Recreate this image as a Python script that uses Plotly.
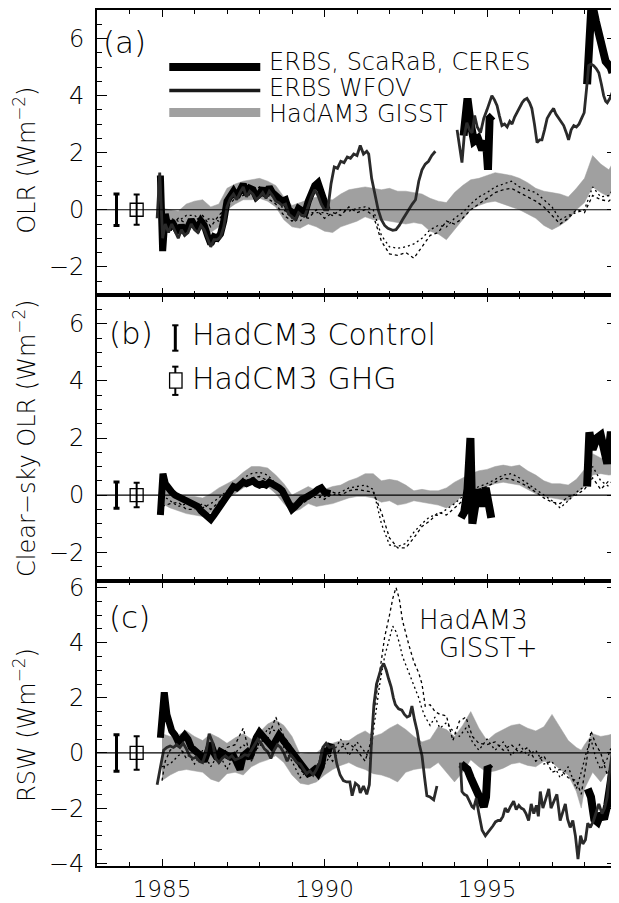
import plotly.graph_objects as go
from plotly.subplots import make_subplots

# ---------------- data ----------------
# Panel (a) OLR
a_erbs_x = [1984.95, 1985.02, 1985.1, 1985.2, 1985.3, 1985.4, 1985.5, 1985.6, 1985.7, 1985.8, 1985.9, 1986.0, 1986.1, 1986.2, 1986.3, 1986.4, 1986.5, 1986.6, 1986.7, 1986.8, 1986.9, 1987.0, 1987.1, 1987.2, 1987.3, 1987.4, 1987.5, 1987.6, 1987.7, 1987.8, 1987.9, 1988.0, 1988.1, 1988.2, 1988.3, 1988.4, 1988.5, 1988.6, 1988.7, 1988.8, 1988.9, 1989.0, 1989.1, 1989.2, 1989.3, 1989.4, 1989.5, 1989.6, 1989.7, 1989.8, 1989.9, 1990.0, 1990.08]
a_erbs_y = [1.2, -1.45, -0.15, -0.7, -0.4, -0.55, -0.8, -0.55, -0.75, -0.6, -0.35, -0.55, -0.65, -0.4, -0.55, -0.9, -1.2, -0.95, -1.0, -0.85, -0.4, 0.3, 0.5, 0.65, 0.45, 0.7, 0.9, 0.55, 0.75, 0.7, 0.45, 0.55, 0.75, 0.5, 0.8, 0.6, 0.45, 0.4, 0.3, 0.35, 0.0, -0.1, -0.2, 0.05, -0.05, -0.1, 0.3, 0.6, 0.85, 0.95, 0.6, 0.3, 0.0]
a_scarab_x = [1994.28, 1994.4, 1994.5, 1994.6, 1994.72, 1994.85, 1994.97, 1995.03, 1995.08, 1995.17]
a_scarab_y = [2.6, 3.9, 3.0, 2.4, 2.5, 2.1, 2.4, 1.4, 3.2, 3.3]
a_ceres_x = [1998.08, 1998.15, 1998.22, 1998.35, 1998.5, 1998.65, 1998.8, 1998.86]
a_ceres_y = [4.4, 6.8, 7.3, 6.6, 5.9, 5.2, 5.0, 4.8]
a_wfov1_x = [1984.85, 1984.93, 1985.02, 1985.1, 1985.2, 1985.3, 1985.4, 1985.5, 1985.6, 1985.7, 1985.8, 1985.9, 1986.0, 1986.1, 1986.2, 1986.3, 1986.4, 1986.5, 1986.6, 1986.7, 1986.8, 1986.9, 1987.0, 1987.1, 1987.2, 1987.3, 1987.4, 1987.5, 1987.6, 1987.7, 1987.8, 1987.9, 1988.0, 1988.1, 1988.2, 1988.3, 1988.4, 1988.5, 1988.6, 1988.7, 1988.8, 1988.9, 1989.0, 1989.1, 1989.2, 1989.3, 1989.4, 1989.5, 1989.6, 1989.7, 1989.8, 1989.9, 1990.0, 1990.1, 1990.2, 1990.3, 1990.4, 1990.5, 1990.6, 1990.7, 1990.8, 1990.9, 1991.0, 1991.1, 1991.2, 1991.3, 1991.36, 1991.45, 1991.55, 1991.65, 1991.75, 1991.85, 1991.95, 1992.1, 1992.2, 1992.3, 1992.4, 1992.5, 1992.6, 1992.7, 1992.8, 1992.9, 1993.0, 1993.1, 1993.2, 1993.3, 1993.41]
a_wfov1_y = [-0.3, 1.3, -1.0, -0.5, -0.8, -0.5, -0.75, -1.0, -0.7, -0.9, -0.8, -0.5, -0.7, -0.8, -0.55, -0.7, -1.0, -1.3, -1.05, -1.05, -0.95, -0.6, 0.1, 0.4, 0.55, 0.35, 0.6, 0.8, 0.45, 0.65, 0.55, 0.35, 0.45, 0.6, 0.4, 0.65, 0.5, 0.3, 0.25, 0.15, 0.2, -0.15, -0.25, -0.35, -0.1, -0.2, -0.2, 0.15, 0.45, 0.7, 0.5, 0.2, 0.0, 0.0, 0.9, 1.5, 1.45, 1.7, 1.65, 1.85, 1.8, 1.95, 1.9, 2.25, 1.95, 2.05, 1.95, 1.1, 0.5, 0.0, -0.35, -0.55, -0.65, -0.72, -0.7, -0.55, -0.35, -0.15, 0.0, 0.2, 0.35, 1.0, 1.4, 1.6, 1.7, 1.9, 2.05]
a_wfov2_x = [1994.08, 1994.15, 1994.23, 1994.3, 1994.38, 1994.46, 1994.54, 1994.62, 1994.7, 1994.8, 1994.9, 1995.0, 1995.08, 1995.15, 1995.23, 1995.31, 1995.38, 1995.46, 1995.54, 1995.62, 1995.7, 1995.77, 1995.85, 1995.92, 1996.0, 1996.08, 1996.15, 1996.23, 1996.31, 1996.38, 1996.46, 1996.54, 1996.62, 1996.69, 1996.77, 1996.85, 1996.95, 1997.05, 1997.12, 1997.2, 1997.28, 1997.36, 1997.44, 1997.51, 1997.59, 1997.67, 1997.75, 1997.83, 1997.91, 1997.99, 1998.06, 1998.13, 1998.2, 1998.28, 1998.36, 1998.44, 1998.52, 1998.59, 1998.65, 1998.7, 1998.78, 1998.85, 1998.92, 1999.0]
a_wfov2_y = [2.8, 2.2, 1.65, 2.6, 3.05, 2.8, 2.7, 3.3, 2.9, 2.7, 3.2, 3.5, 3.75, 4.0, 3.85, 3.65, 3.3, 2.95, 3.0, 2.9, 3.1, 3.0, 3.25, 3.4, 3.6, 3.75, 3.85, 3.9, 3.75, 3.55, 3.0, 2.35, 2.45, 2.45, 2.8, 3.2, 3.4, 3.55, 3.35, 3.2, 3.05, 2.95, 2.7, 2.45, 2.8, 2.95, 2.9, 3.0, 3.2, 3.4, 4.2, 5.05, 5.1, 5.05, 4.95, 4.8, 4.4, 4.0, 3.8, 3.75, 3.9, 4.1, 4.05, 4.1]
a_band_x = [1985.0, 1985.25, 1985.5, 1985.75, 1986.0, 1986.25, 1986.5, 1986.75, 1987.0, 1987.25, 1987.5, 1987.75, 1988.0, 1988.25, 1988.5, 1988.75, 1989.0, 1989.25, 1989.5, 1989.75, 1990.0, 1990.25, 1990.5, 1990.75, 1991.0, 1991.25, 1991.5, 1991.75, 1992.0, 1992.25, 1992.5, 1992.75, 1993.0, 1993.25, 1993.5, 1993.75, 1994.0, 1994.25, 1994.5, 1994.75, 1995.0, 1995.25, 1995.5, 1995.75, 1996.0, 1996.25, 1996.5, 1996.75, 1997.0, 1997.25, 1997.5, 1997.75, 1998.0, 1998.25, 1998.5, 1998.75, 1999.0]
a_band_hi = [0.05, 0.0, -0.05, 0.2, 0.3, 0.35, 0.1, 0.2, 0.75, 0.9, 1.0, 1.05, 1.1, 1.0, 0.85, 0.45, 0.15, 0.25, 0.35, 0.45, 0.35, 0.35, 0.55, 0.7, 0.75, 0.8, 0.75, 0.7, 0.75, 0.65, 0.65, 0.6, 0.55, 0.4, 0.3, 0.25, 0.6, 0.85, 1.05, 1.1, 1.2, 1.3, 1.25, 1.2, 1.1, 0.95, 0.75, 0.65, 0.6, 0.55, 0.45, 0.75, 1.1, 1.9, 1.6, 1.4, 1.9]
a_band_lo = [-0.35, -0.7, -0.65, -0.55, -0.6, -0.7, -0.8, -0.6, 0.0, 0.2, 0.35, 0.35, 0.4, 0.3, 0.1, -0.35, -0.6, -0.65, -0.5, -0.6, -0.75, -0.8, -0.6, -0.5, -0.4, -0.25, -0.35, -0.35, -0.4, -0.45, -0.5, -0.45, -0.5, -0.75, -0.85, -1.05, -0.7, -0.35, 0.0, 0.15, 0.25, 0.3, 0.2, 0.1, 0.0, -0.15, -0.3, -0.55, -0.7, -0.55, -0.35, 0.0, 0.25, 0.8, 0.6, 0.45, 1.05]
a_plus1 = [-0.3, -0.3, -0.4, -0.2, -0.2, -0.4, -0.3, -0.4, 0.3, 0.6, 0.7, 0.8, 0.6, 0.6, 0.4, 0.0, -0.3, -0.4, -0.1, -0.1, -0.1, -0.2, 0.0, -0.05, 0.05, 0.1, 0.0, -0.9, -1.3, -1.35, -1.3, -1.2, -1.0, -0.7, -0.55, -0.6, -0.3, -0.1, 0.2, 0.45, 0.6, 0.8, 0.9, 1.0, 0.8, 0.7, 0.6, 0.35, 0.1, -0.35, -0.2, -0.1, 0.0, 0.8, 0.45, 0.5, 0.9]
a_plus2 = [-0.5, -0.6, -0.3, -0.5, -0.4, -0.2, -0.6, -0.2, 0.1, 0.4, 0.5, 0.6, 0.8, 0.4, 0.2, -0.2, -0.4, -0.2, -0.3, 0.0, -0.3, -0.1, -0.2, 0.1, -0.1, 0.0, -0.2, -1.1, -1.55, -1.6, -1.5, -1.7, -1.3, -0.9, -0.8, -0.4, -0.5, -0.3, 0.0, 0.2, 0.4, 0.6, 0.7, 0.75, 0.6, 0.45, 0.3, 0.1, -0.2, -0.5, -0.3, 0.0, -0.1, 0.5, 0.35, 0.3, 0.6]

# Panel (b) clear-sky OLR
b_erbs_x = [1984.95, 1985.03, 1985.1, 1985.2, 1985.3, 1985.4, 1985.5, 1985.6, 1985.7, 1985.8, 1985.9, 1986.0, 1986.1, 1986.2, 1986.3, 1986.4, 1986.5, 1986.6, 1986.7, 1986.8, 1986.9, 1987.0, 1987.1, 1987.2, 1987.3, 1987.4, 1987.5, 1987.6, 1987.7, 1987.8, 1987.9, 1988.0, 1988.1, 1988.2, 1988.3, 1988.4, 1988.5, 1988.6, 1988.7, 1988.8, 1988.9, 1989.0, 1989.1, 1989.2, 1989.3, 1989.4, 1989.5, 1989.6, 1989.7, 1989.8, 1989.9, 1990.0, 1990.1, 1990.18]
b_erbs_y = [-0.7, 0.75, 0.4, 0.2, 0.1, 0.0, -0.05, -0.1, -0.15, -0.2, -0.25, -0.3, -0.4, -0.55, -0.65, -0.8, -0.85, -0.7, -0.55, -0.4, -0.2, -0.05, 0.15, 0.3, 0.25, 0.35, 0.45, 0.4, 0.45, 0.5, 0.4, 0.35, 0.4, 0.35, 0.45, 0.4, 0.3, 0.25, 0.15, -0.05, -0.3, -0.5, -0.4, -0.25, -0.15, -0.1, -0.05, 0.0, 0.1, 0.2, 0.25, 0.1, 0.05, 0.05]
b_scarab_x = [1994.2, 1994.3, 1994.4, 1994.49, 1994.55, 1994.62, 1994.72, 1994.84, 1994.96, 1995.05, 1995.13]
b_scarab_y = [-0.8, -0.6, 0.2, 2.0, -1.0, -0.3, 0.2, -0.4, 0.25, -0.3, -0.8]
b_ceres_x = [1998.08, 1998.15, 1998.25, 1998.38, 1998.5, 1998.6, 1998.7, 1998.8, 1998.88]
b_ceres_y = [0.3, 2.2, 1.6, 2.0, 2.1, 1.4, 1.1, 2.1, 2.1]
b_band_x = a_band_x
b_band_hi = [0.35, 0.15, 0.0, -0.05, -0.05, -0.1, 0.05, 0.25, 0.4, 0.55, 0.8, 1.0, 1.0, 0.95, 0.7, 0.4, 0.0, 0.15, 0.3, 0.15, 0.2, 0.3, 0.35, 0.5, 0.6, 0.75, 0.75, 0.5, 0.55, 0.5, 0.35, 0.15, 0.2, 0.15, 0.15, 0.25, 0.45, 0.6, 0.75, 0.85, 0.9, 1.0, 1.05, 1.0, 1.05, 0.85, 0.7, 0.5, 0.4, 0.4, 0.35, 0.55, 0.9, 1.45, 1.3, 1.2, 1.35]
b_band_lo = [-0.3, -0.45, -0.55, -0.65, -0.7, -0.75, -0.6, -0.4, -0.15, 0.05, 0.25, 0.4, 0.4, 0.3, 0.05, -0.3, -0.6, -0.5, -0.3, -0.4, -0.35, -0.3, -0.2, -0.1, -0.05, -0.05, -0.1, -0.25, -0.2, -0.35, -0.3, -0.2, -0.25, -0.3, -0.35, -0.45, -0.3, 0.0, 0.1, 0.2, 0.3, 0.4, 0.45, 0.4, 0.35, 0.2, 0.05, -0.05, -0.1, -0.15, -0.2, 0.05, 0.3, 0.7, 0.75, 0.7, 0.75]
b_plus1 = [0.0, -0.2, -0.4, -0.3, -0.35, -0.45, -0.3, -0.1, 0.15, 0.25, 0.6, 0.75, 0.8, 0.7, 0.4, 0.05, -0.3, -0.2, 0.0, -0.1, -0.05, 0.0, 0.1, 0.25, 0.3, 0.35, 0.2, -1.0, -1.75, -1.8, -1.7, -1.3, -1.0, -0.75, -0.7, -0.5, -0.3, -0.05, 0.15, 0.3, 0.4, 0.55, 0.7, 0.75, 0.6, 0.4, 0.2, 0.0, -0.2, -0.45, -0.2, 0.1, 0.3, 1.0, 0.5, 0.3, 0.4]
b_plus2 = [-0.4, -0.3, -0.25, -0.5, -0.5, -0.3, -0.5, -0.25, 0.0, 0.35, 0.45, 0.6, 0.65, 0.5, 0.3, -0.1, -0.4, -0.35, -0.15, 0.05, -0.15, 0.1, 0.0, 0.15, 0.2, 0.15, 0.1, -0.6, -1.5, -1.85, -1.85, -1.5, -1.1, -0.9, -0.6, -0.7, -0.45, -0.2, 0.0, 0.2, 0.3, 0.45, 0.6, 0.55, 0.45, 0.3, 0.1, -0.1, -0.25, -0.3, -0.05, 0.0, 0.2, 0.6, 0.2, 0.5, 0.3]

# Panel (c) RSW
c_erbs_x = [1984.95, 1985.07, 1985.15, 1985.22, 1985.3, 1985.4, 1985.5, 1985.6, 1985.7, 1985.8, 1985.9, 1986.0, 1986.1, 1986.2, 1986.3, 1986.4, 1986.5, 1986.6, 1986.7, 1986.8, 1986.9, 1987.0, 1987.1, 1987.2, 1987.3, 1987.4, 1987.5, 1987.6, 1987.7, 1987.8, 1987.9, 1988.0, 1988.1, 1988.2, 1988.3, 1988.4, 1988.5, 1988.6, 1988.7, 1988.8, 1988.9, 1989.0, 1989.1, 1989.2, 1989.3, 1989.4, 1989.5, 1989.6, 1989.7, 1989.8, 1989.9, 1990.0, 1990.1, 1990.2]
c_erbs_y = [0.55, 2.2, 1.4, 1.0, 0.8, 0.65, 0.4, 0.5, 0.65, 0.5, 0.2, 0.1, 0.0, -0.1, -0.3, 0.1, 0.35, 0.0, -0.2, 0.05, 0.0, -0.05, -0.15, -0.1, -0.3, -0.6, -0.1, 0.0, -0.2, 0.2, 0.55, 0.75, 0.6, 0.4, 0.25, 0.2, 0.45, 0.65, 0.5, 0.35, 0.2, 0.1, -0.05, -0.2, -0.45, -0.6, -0.75, -0.7, -0.6, -0.75, -0.5, 0.15, 0.0, 0.35]
c_scarab_x = [1994.2, 1994.3, 1994.4, 1994.5, 1994.6, 1994.7, 1994.8, 1994.9, 1994.97, 1995.02, 1995.1]
c_scarab_y = [-0.4, -0.5, -0.6, -0.9, -1.2, -1.5, -1.7, -1.95, -1.6, -0.5, -0.6]
c_ceres_x = [1998.1, 1998.2, 1998.3, 1998.4, 1998.5, 1998.6, 1998.7, 1998.78, 1998.85]
c_ceres_y = [-1.3, -1.6, -2.4, -2.5, -2.2, -2.4, -1.9, -1.3, -0.7]
c_wfov1_x = [1984.85, 1984.95, 1985.05, 1985.15, 1985.25, 1985.35, 1985.45, 1985.55, 1985.65, 1985.75, 1985.85, 1985.95, 1986.05, 1986.15, 1986.25, 1986.35, 1986.45, 1986.55, 1986.65, 1986.75, 1986.85, 1986.95, 1987.05, 1987.15, 1987.25, 1987.35, 1987.45, 1987.55, 1987.65, 1987.75, 1987.85, 1987.95, 1988.05, 1988.15, 1988.25, 1988.35, 1988.45, 1988.55, 1988.65, 1988.75, 1988.85, 1988.95, 1989.05, 1989.15, 1989.25, 1989.35, 1989.45, 1989.55, 1989.65, 1989.75, 1989.85, 1989.95, 1990.05, 1990.15, 1990.28, 1990.38, 1990.48, 1990.58, 1990.68, 1990.78, 1990.85, 1990.95, 1991.05, 1991.1, 1991.2, 1991.3, 1991.38, 1991.45, 1991.52, 1991.6, 1991.67, 1991.75, 1991.82, 1991.9, 1991.97, 1992.05, 1992.12, 1992.18, 1992.28, 1992.38, 1992.46, 1992.54, 1992.62, 1992.69, 1992.77, 1992.85, 1992.92, 1993.0, 1993.08, 1993.15, 1993.25, 1993.36, 1993.46]
c_wfov1_y = [-1.15, -0.5, 0.1, 0.2, 0.25, 0.2, 0.3, 0.2, 0.35, 0.15, -0.1, -0.2, -0.15, -0.3, -0.35, 0.0, 0.7, 0.4, -0.2, -0.35, -0.2, -0.1, -0.2, -0.1, -0.25, -0.2, -0.15, -0.05, -0.1, 0.1, 0.3, 0.5, 0.35, 0.15, 0.05, -0.2, 0.1, 0.3, 0.2, 0.0, -0.3, -0.05, -0.2, -0.35, -0.4, -0.6, -0.75, -0.65, -0.8, -0.6, -0.35, 0.2, 0.35, 0.2, 0.25, -0.4, -0.8, -1.0, -1.05, -1.05, -1.55, -1.1, -1.2, -1.45, -1.2, -1.5, -1.15, 0.5, 1.75, 2.5, 2.8, 3.1, 3.25, 3.0, 2.7, 2.4, 2.0, 1.75, 1.6, 1.55, 1.4, 1.3, 1.35, 1.7, 1.2, 0.8, 0.3, -0.1, -0.9, -1.55, -1.6, -1.7, -1.2]
c_wfov2_x = [1994.18, 1994.23, 1994.3, 1994.38, 1994.46, 1994.54, 1994.59, 1994.67, 1994.75, 1994.85, 1994.95, 1995.02, 1995.1, 1995.18, 1995.26, 1995.34, 1995.41, 1995.49, 1995.56, 1995.64, 1995.72, 1995.82, 1995.9, 1995.98, 1996.05, 1996.13, 1996.2, 1996.28, 1996.36, 1996.44, 1996.52, 1996.58, 1996.64, 1996.72, 1996.8, 1996.9, 1996.97, 1997.05, 1997.15, 1997.25, 1997.33, 1997.41, 1997.48, 1997.56, 1997.64, 1997.72, 1997.8, 1997.88, 1997.95, 1998.03, 1998.1, 1998.18, 1998.28, 1998.36, 1998.44, 1998.54, 1998.62, 1998.7, 1998.76, 1998.85, 1998.92, 1998.97]
c_wfov2_y = [-0.35, -1.4, -1.5, -1.55, -1.75, -1.95, -2.0, -1.65, -2.2, -2.8, -3.0, -2.9, -2.8, -2.65, -2.5, -2.45, -2.45, -2.3, -2.0, -2.15, -1.95, -1.75, -2.05, -1.9, -2.0, -2.05, -2.2, -2.45, -1.85, -2.2, -1.9, -2.3, -1.4, -2.0, -1.7, -1.3, -2.0, -1.8, -1.5, -2.45, -2.1, -1.85, -2.4, -2.7, -2.45, -3.0, -3.85, -3.0, -3.3, -3.15, -2.55, -2.7, -2.45, -2.1, -1.85, -2.2, -2.0, -1.6, -0.8, 0.0, -0.35, -0.9]
c_band_x = [1985.0, 1985.25, 1985.5, 1985.75, 1986.0, 1986.25, 1986.5, 1986.75, 1987.0, 1987.25, 1987.5, 1987.75, 1988.0, 1988.25, 1988.5, 1988.75, 1989.0, 1989.25, 1989.5, 1989.75, 1990.0, 1990.25, 1990.5, 1990.75, 1991.0, 1991.25, 1991.5, 1991.75, 1992.0, 1992.25, 1992.5, 1992.75, 1993.0, 1993.25, 1993.5, 1993.75, 1994.0, 1994.25, 1994.5, 1994.75, 1995.0, 1995.25, 1995.5, 1995.75, 1996.0, 1996.25, 1996.5, 1996.75, 1997.0, 1997.25, 1997.5, 1997.75, 1997.9, 1998.0, 1998.25, 1998.5, 1998.75, 1999.0]
c_band_hi = [0.7, 0.6, 0.65, 0.8, 0.6, 0.45, 0.7, 0.55, 0.35, 0.55, 0.7, 0.5, 0.75, 1.05, 1.2, 1.0, 0.6, -0.05, 0.0, 0.0, 0.25, 0.35, 0.45, 0.45, 0.65, 0.8, 0.6, 0.7, 0.9, 1.05, 0.85, 0.6, 0.4, 0.5, 0.95, 0.85, 0.6, 1.0, 1.5, 0.9, 0.45, 0.7, 0.85, 1.0, 1.05, 0.9, 0.8, 0.95, 1.4, 0.9, 0.45, 0.2, 0.1, 0.3, 0.7, 0.6, 0.65, 0.75]
c_band_lo = [-1.0, -0.8, -0.65, -0.6, -0.65, -0.7, -0.95, -1.05, -0.75, -0.7, -0.8, -0.5, -0.35, -0.25, -0.1, -0.35, -0.8, -1.1, -1.15, -1.05, -0.8, -0.6, -0.45, -0.35, -0.5, -0.6, -0.75, -0.8, -0.9, -1.05, -0.7, -0.6, -0.55, -0.55, -0.35, -0.7, -1.05, -0.7, -0.25, -0.5, -0.7, -0.65, -0.55, -0.4, -0.35, -0.45, -0.5, -0.3, -0.35, -0.6, -0.8, -1.4, -2.0, -1.3, -0.7, -1.05, -0.6, -0.25]
c_plus_x = [1985.0, 1985.1, 1985.25, 1985.5, 1985.75, 1986.0, 1986.25, 1986.5, 1986.75, 1987.0, 1987.25, 1987.5, 1987.75, 1988.0, 1988.25, 1988.5, 1988.75, 1989.0, 1989.25, 1989.5, 1989.75, 1990.0, 1990.25, 1990.5, 1990.75, 1991.0, 1991.25, 1991.4, 1991.55, 1991.7, 1991.85, 1992.0, 1992.1, 1992.2, 1992.3, 1992.4, 1992.5, 1992.6, 1992.75, 1992.9, 1993.0, 1993.1, 1993.25, 1993.4, 1993.55, 1993.75, 1993.95, 1994.15, 1994.35, 1994.55, 1994.75, 1995.0, 1995.25, 1995.5, 1995.75, 1996.0, 1996.25, 1996.5, 1996.75, 1997.0, 1997.25, 1997.5, 1997.75, 1997.9, 1998.05, 1998.2, 1998.35, 1998.5, 1998.7, 1998.85, 1999.0]
c_plus1 = [-1.0, -0.3, 0.1, 0.3, -0.2, 0.2, -0.3, 0.4, -0.4, 0.2, 0.3, 0.9, -0.3, 0.4, 0.5, 1.3, 0.6, 0.2, -0.6, -0.9, -0.5, 0.1, -0.3, 0.2, 0.35, 0.1, -0.3, 0.3, 1.7, 3.0, 4.2, 5.0, 5.6, 6.0, 5.6, 4.8, 4.3, 3.9, 3.3, 2.9, 2.5, 1.7, 1.75, 1.5, 1.4, 1.35, 0.45, 1.15, 1.3, 0.6, 0.35, 0.3, 0.4, 0.1, 0.3, 0.0, 0.2, -0.3, -0.1, -0.7, -0.6, -0.9, -1.0, -1.5, -0.4, 0.8, 0.3, 0.0, -0.8, -0.3, 0.2]
c_plus2 = [-0.5, -0.45, -0.4, -0.1, 0.1, -0.4, 0.1, -0.5, 0.0, -0.6, 0.0, 0.3, 0.1, 0.2, 0.9, 0.8, 0.2, -0.3, -0.9, -0.6, -0.8, -0.4, 0.0, 0.5, -0.1, 0.4, 0.0, -0.2, 1.2, 2.5, 3.5, 4.2, 4.6, 4.4, 4.0, 3.5, 3.2, 2.9, 2.4, 2.0, 1.6, 1.3, 1.0, 1.3, 0.9, 1.1, 0.8, 0.6, 0.9, 0.4, 0.1, 0.5, 0.1, 0.4, -0.1, 0.3, -0.1, 0.1, -0.4, -0.3, -0.9, -0.5, -1.3, -0.7, 0.0, 0.5, -0.2, -0.6, -0.2, 0.3, -0.2]

# HadCM3 variability bars (half-ranges) for panels a, b, c
ctrl_x = [1983.6]
ghg_x = [1984.22]
ctrl_err = [0.55, 0.46, 0.66]
ghg_err = [0.53, 0.43, 0.61]

panel_labels = ["(a)", "(b)", "(c)"]
y_titles = ["OLR (Wm<sup>\u22122</sup>)", "Clear\u2212sky OLR (Wm<sup>\u22122</sup>)", "RSW (Wm<sup>\u22122</sup>)"]
legend_a = ["ERBS, ScaRaB, CERES", "ERBS WFOV", "HadAM3 GISST"]
legend_b = ["HadCM3 Control", "HadCM3 GHG"]
x_ticks = [1985, 1990, 1995]

# ---------------- figure ----------------
FONT = "DejaVu Sans"
WT = 300
GRAY = "#a0a0a0"
THICK = 7
fig = make_subplots(rows=3, cols=1, vertical_spacing=0)


def fnt(size):
    return dict(family=FONT, size=size, color="black", weight=WT)


def band(x, hi, lo, row):
    fig.add_trace(go.Scatter(x=list(x) + list(x)[::-1], y=list(hi) + list(lo)[::-1],
                             fill="toself", fillcolor=GRAY, mode="lines",
                             line=dict(width=0.5, color=GRAY), hoverinfo="skip"), row=row, col=1)


def dotted(x, y, row, dash):
    fig.add_trace(go.Scatter(x=x, y=y, mode="lines",
                             line=dict(color="black", width=1.3, dash=dash)), row=row, col=1)


def thick(x, y, row, w=THICK):
    fig.add_trace(go.Scatter(x=x, y=y, mode="lines",
                             line=dict(color="black", width=w)), row=row, col=1)


def thin(x, y, row):
    fig.add_trace(go.Scatter(x=x, y=y, mode="lines",
                             line=dict(color="#2a2a2a", width=2.8)), row=row, col=1)


def bars(row, i):
    fig.add_trace(go.Scatter(x=ctrl_x, y=[0], mode="markers",
                             marker=dict(size=1, color="black"),
                             error_y=dict(type="data", array=[ctrl_err[i]], color="black",
                                          thickness=3, width=3)), row=row, col=1)
    fig.add_trace(go.Scatter(x=ghg_x, y=[0], mode="markers",
                             marker=dict(symbol="square-open", size=13, color="black",
                                         line=dict(width=1.3)),
                             error_y=dict(type="data", array=[ghg_err[i]], color="black",
                                          thickness=2, width=3)), row=row, col=1)


# panel a
band(a_band_x, a_band_hi, a_band_lo, 1)
dotted(a_band_x, a_plus1, 1, "2px,3px")
dotted(a_band_x, a_plus2, 1, "3px,3px")
thick(a_erbs_x, a_erbs_y, 1)
thick(a_scarab_x, a_scarab_y, 1, 8)
thick(a_ceres_x, a_ceres_y, 1, 8)
thin(a_wfov1_x, a_wfov1_y, 1)
thin(a_wfov2_x, a_wfov2_y, 1)
bars(1, 0)

# panel b
band(b_band_x, b_band_hi, b_band_lo, 2)
dotted(b_band_x, b_plus1, 2, "2px,3px")
dotted(b_band_x, b_plus2, 2, "3px,3px")
thick(b_erbs_x, b_erbs_y, 2)
thick(b_scarab_x, b_scarab_y, 2, 8)
thick(b_ceres_x, b_ceres_y, 2, 8)
bars(2, 1)

# panel c
band(c_band_x, c_band_hi, c_band_lo, 3)
dotted(c_plus_x, c_plus1, 3, "3px,3px")
dotted(c_plus_x, c_plus2, 3, "2px,3px")
thick(c_erbs_x, c_erbs_y, 3)
thick(c_scarab_x, c_scarab_y, 3, 8)
thick(c_ceres_x, c_ceres_y, 3, 8)
thin(c_wfov1_x, c_wfov1_y, 3)
thin(c_wfov2_x, c_wfov2_y, 3)
bars(3, 2)

xa = dict(range=[1983, 1999], automargin=False, showgrid=False, zeroline=False, showline=True,
          linecolor="black", linewidth=2, mirror="allticks", ticks="inside", ticklen=7, tickwidth=1.2,
          tickcolor="black", tickvals=x_ticks,
          minor=dict(dtick=1, tick0=1983, ticks="inside", ticklen=4, tickcolor="black"),
          tickfont=fnt(23))
ya = dict(automargin=False, showgrid=False, zeroline=False, showline=True, linecolor="black", linewidth=2,
          mirror="allticks", ticks="inside", ticklen=10, tickwidth=1.2, tickcolor="black", dtick=2,
          minor=dict(dtick=0.5, ticks="inside", ticklen=5, tickcolor="black"),
          tickfont=fnt(24), ticklabelstandoff=6)

fig.update_layout(xaxis=dict(xa, showticklabels=False), xaxis2=dict(xa, showticklabels=False),
                  xaxis3=dict(xa, ticklabelstandoff=1),
                  yaxis=dict(ya, range=[-3, 7], tick0=0), yaxis2=dict(ya, range=[-3, 7], tick0=0),
                  yaxis3=dict(ya, range=[-4.1, 6.25], tick0=0))

shapes = []
ann = []
for i, yr in enumerate(["y", "y2", "y3"]):
    xd = ["x domain", "x2 domain", "x3 domain"][i]
    shapes.append(dict(type="line", xref=xd, yref=yr, x0=0, x1=1, y0=0, y1=0,
                       line=dict(color="black", width=1.2), layer="above"))

# legend samples panel a
for yv, w, c in [(0.800, 8, "black"), (0.718, 3.5, "#1a1a1a"), (0.641, 9, GRAY)]:
    shapes.append(dict(type="line", xref="x domain", yref="y domain", x0=0.139, x1=0.314,
                       y0=yv, y1=yv, line=dict(color=c, width=w)))
for t, yv in zip(legend_a, [0.818, 0.727, 0.636]):
    ann.append(dict(text=t, xref="x domain", yref="y domain", x=0.327, y=yv, xanchor="left",
                    yanchor="middle", showarrow=False, height=22, valign="middle", font=fnt(24)))

# legend samples panel b
xc = 0.1506
shapes += [
    dict(type="line", xref="x2 domain", yref="y2 domain", x0=xc, x1=xc, y0=0.806, y1=0.895,
         line=dict(color="black", width=3)),
    dict(type="line", xref="x2 domain", yref="y2 domain", x0=xc - 0.006, x1=xc + 0.006, y0=0.895, y1=0.895,
         line=dict(color="black", width=2)),
    dict(type="line", xref="x2 domain", yref="y2 domain", x0=xc - 0.006, x1=xc + 0.006, y0=0.806, y1=0.806,
         line=dict(color="black", width=2)),
    dict(type="line", xref="x2 domain", yref="y2 domain", x0=xc, x1=xc, y0=0.651, y1=0.750,
         line=dict(color="black", width=2)),
    dict(type="line", xref="x2 domain", yref="y2 domain", x0=xc - 0.006, x1=xc + 0.006, y0=0.750, y1=0.750,
         line=dict(color="black", width=2)),
    dict(type="line", xref="x2 domain", yref="y2 domain", x0=xc - 0.006, x1=xc + 0.006, y0=0.651, y1=0.651,
         line=dict(color="black", width=2)),
    dict(type="rect", xref="x2 domain", yref="y2 domain", x0=0.1396, x1=0.1635, y0=0.675, y1=0.728,
         line=dict(color="black", width=1.3), fillcolor="white"),
]
for t, yv in zip(legend_b, [0.861, 0.710]):
    ann.append(dict(text=t, xref="x2 domain", yref="y2 domain", x=0.1798, y=yv, xanchor="left",
                    yanchor="middle", showarrow=False, font=fnt(30)))

# panel c text
ann.append(dict(text="HadAM3", xref="x3 domain", yref="y3 domain", x=0.833, y=0.862, xanchor="right",
                yanchor="middle", showarrow=False, height=24, valign="middle", font=fnt(26)))
ann.append(dict(text="GISST+", xref="x3 domain", yref="y3 domain", x=0.851, y=0.764, xanchor="right",
                yanchor="middle", showarrow=False, height=24, valign="middle", font=fnt(26)))

# panel labels
for t, xr, yr, xv, yv in [(panel_labels[0], "x domain", "y domain", 0.008, 0.889),
                          (panel_labels[1], "x2 domain", "y2 domain", 0.019, 0.868),
                          (panel_labels[2], "x3 domain", "y3 domain", 0.019, 0.872)]:
    ann.append(dict(text=t, xref=xr, yref=yr, x=xv, y=yv, xanchor="left", yanchor="middle",
                    showarrow=False, font=fnt(31)))

# y titles
for t, yr, yv in zip(y_titles, ["y domain", "y2 domain", "y3 domain"], [0.475, 0.5, 0.494]):
    ann.append(dict(text=t, xref="paper", yref=yr, x=-0.1385, y=yv, xanchor="center", yanchor="middle",
                    textangle=-90, showarrow=False, font=fnt(24)))

# the page adds an 8px body margin, so the figure is sized to end at the window edge
fig.update_layout(width=611, height=895, margin=dict(l=89, r=2, t=2, b=37, autoexpand=False),
                  paper_bgcolor="white", plot_bgcolor="white", showlegend=False,
                  shapes=shapes, annotations=ann, font=dict(family=FONT, color="black"))

fig.write_html("out.html")
